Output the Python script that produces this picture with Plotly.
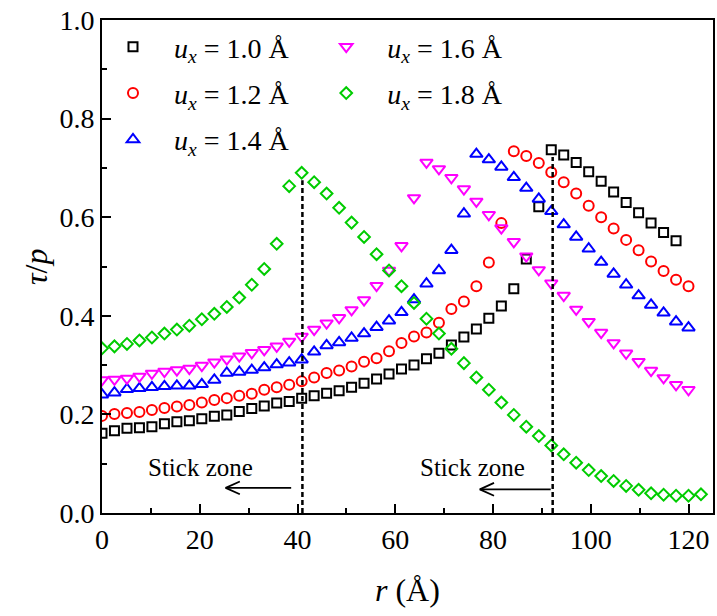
import plotly.graph_objects as go

# shared radial grid (Å)
r_grid = [0.00, 2.55, 5.11, 7.66, 10.21, 12.77, 15.32, 17.87, 20.42, 22.98,
          25.53, 28.08, 30.64, 33.19, 35.74, 38.30, 40.85, 43.40, 45.95, 48.51,
          51.06, 53.61, 56.17, 58.72, 61.27, 63.83, 66.38, 68.93, 71.48, 74.04,
          76.59, 79.14, 81.70, 84.25, 86.80, 89.36, 91.91, 94.46, 97.01, 99.57,
          102.12, 104.67, 107.23, 109.78, 112.33, 114.89, 117.44, 119.99, 122.54]

ux_10 = [0.162, 0.167, 0.172, 0.173, 0.175, 0.181, 0.185, 0.187, 0.191, 0.196,
         0.199, 0.206, 0.212, 0.217, 0.223, 0.226, 0.233, 0.238, 0.243, 0.248,
         0.255, 0.263, 0.272, 0.282, 0.292, 0.300, 0.313, 0.324, 0.341, 0.357,
         0.373, 0.395, 0.420, 0.455, 0.515, 0.621, 0.737, 0.726, 0.711, 0.692,
         0.673, 0.651, 0.630, 0.609, 0.588, 0.569, 0.552]
ux_12 = [0.197, 0.201, 0.203, 0.205, 0.209, 0.213, 0.216, 0.219, 0.224, 0.229,
         0.233, 0.238, 0.242, 0.250, 0.255, 0.260, 0.267, 0.275, 0.284, 0.289,
         0.297, 0.307, 0.314, 0.328, 0.345, 0.358, 0.366, 0.386, 0.414, 0.429,
         0.460, 0.508, 0.588, 0.734, 0.724, 0.710, 0.691, 0.671, 0.648, 0.623,
         0.600, 0.577, 0.554, 0.533, 0.510, 0.491, 0.473, 0.460]
ux_14 = [0.240, 0.244, 0.251, 0.253, 0.255, 0.257, 0.258, 0.258, 0.261, 0.270,
         0.284, 0.286, 0.290, 0.295, 0.301, 0.305, 0.311, 0.327, 0.340, 0.346,
         0.355, 0.364, 0.377, 0.390, 0.407, 0.433, 0.465, 0.492, 0.533, 0.607,
         0.728, 0.717, 0.702, 0.681, 0.659, 0.637, 0.612, 0.585, 0.560, 0.536,
         0.509, 0.485, 0.463, 0.441, 0.422, 0.406, 0.388, 0.376]
ux_16 = [0.270, 0.271, 0.273, 0.277, 0.283, 0.287, 0.290, 0.293, 0.299, 0.306,
         0.312, 0.318, 0.325, 0.331, 0.338, 0.348, 0.358, 0.372, 0.385, 0.396,
         0.412, 0.432, 0.461, 0.492, 0.542, 0.639, 0.711, 0.698, 0.680, 0.657,
         0.632, 0.605, 0.578, 0.550, 0.521, 0.493, 0.466, 0.441, 0.413, 0.388,
         0.366, 0.345, 0.324, 0.307, 0.289, 0.274, 0.260, 0.250]
ux_18 = [0.334, 0.338, 0.343, 0.350, 0.356, 0.364, 0.372, 0.380, 0.393, 0.404,
         0.418, 0.437, 0.463, 0.495, 0.546, 0.663, 0.690, 0.671, 0.648, 0.619,
         0.589, 0.560, 0.525, 0.492, 0.460, 0.426, 0.394, 0.364, 0.333, 0.304,
         0.275, 0.250, 0.224, 0.199, 0.175, 0.156, 0.137, 0.119, 0.102, 0.087,
         0.075, 0.065, 0.055, 0.047, 0.040, 0.037, 0.035, 0.035, 0.038]

series_labels = ["1.0", "1.2", "1.4", "1.6", "1.8"]
series_values = [ux_10, ux_12, ux_14, ux_16, ux_18]
series_colors = ["#000000", "#FF0000", "#0000FF", "#FF00FF", "#00CC00"]
series_symbols = ["square-open", "circle-open", "triangle-up-open",
                  "triangle-down-open", "diamond-open"]
series_sizes = [9, 10, 11, 11, 9]
series_legend = ["legend", "legend", "legend", "legend2", "legend2"]

# stick-zone boundaries (dashed) and arrows
boundary_r = [41.0, 92.2]
boundary_top = [0.675, 0.722]
arrow_tail_r = [38.7, 91.8]
arrow_head_r = [25.3, 77.3]
arrow_y = [0.051, 0.048]
label_r = [20.2, 75.8]
label_y = [0.092, 0.092]
label_text = ["Stick zone", "Stick zone"]

FONT = "Liberation Serif"
NB = "\u00a0"

fig = go.Figure()

for lab, vals, col, sym, sz, lg in zip(series_labels, series_values, series_colors,
                                         series_symbols, series_sizes, series_legend):
    fig.add_trace(go.Scatter(
        x=r_grid[:len(vals)], y=vals, mode="markers",
        name=NB * 3 + "<i>u</i><sub><i>x</i></sub>" + NB + "= " + lab + " Å",
        legendgroup=lab, legend=lg,
        marker=dict(symbol=sym, size=sz, color=col, line=dict(width=2, color=col)),
    ))

for br, bt in zip(boundary_r, boundary_top):
    fig.add_trace(go.Scatter(x=[br, br], y=[0, bt], mode="lines", showlegend=False,
                             line=dict(color="black", width=2.5, dash="5px,3px")))

head_dx = 2.9
head_dy = 0.013
for tr, hr, ay in zip(arrow_tail_r, arrow_head_r, arrow_y):
    fig.add_trace(go.Scatter(
        x=[tr, hr, None, hr + head_dx, hr, hr + head_dx],
        y=[ay, ay, None, ay + head_dy, ay, ay - head_dy],
        mode="lines", showlegend=False, line=dict(color="black", width=1.8)))

for lr, ly, lt in zip(label_r, label_y, label_text):
    fig.add_annotation(x=lr, y=ly, xref="x", yref="y", text=lt, showarrow=False,
                       xanchor="center", yanchor="middle",
                       font=dict(family=FONT, size=25, color="black"))

fig.add_annotation(x=0.5, y=-0.156, xref="paper", yref="paper", showarrow=False,
                   xanchor="center", yanchor="middle",
                   text="<i>r</i> (Å)", font=dict(family=FONT, size=32, color="black"))
fig.add_annotation(x=-0.109, y=0.5, xref="paper", yref="paper", showarrow=False,
                   xanchor="center", yanchor="middle",
                   textangle=-90, text="<i>τ</i>/<i>p</i>",
                   font=dict(family=FONT, size=32, color="black"))

axis_common = dict(showline=True, linecolor="black", linewidth=2, mirror=True,
                   ticks="inside", ticklen=9, tickwidth=2, tickcolor="black",
                   showgrid=False, zeroline=False,
                   tickfont=dict(family=FONT, size=28, color="black"))

fig.update_xaxes(range=[0, 125], tickvals=[0, 20, 40, 60, 80, 100, 120],
                 minor=dict(ticks="inside", ticklen=5, tickwidth=2, tickcolor="black",
                            dtick=10, tick0=0, showgrid=False),
                 **axis_common)
fig.update_yaxes(range=[0, 1.0], tickvals=[0, 0.2, 0.4, 0.6, 0.8, 1.0], tickformat=".1f",
                 minor=dict(ticks="inside", ticklen=5, tickwidth=2, tickcolor="black",
                            dtick=0.1, tick0=0, showgrid=False),
                 **axis_common)

legend_common = dict(font=dict(family=FONT, size=28, color="black"),
                     bgcolor="rgba(0,0,0,0)", borderwidth=0, tracegroupgap=7,
                     xanchor="left", yanchor="top", itemsizing="trace")
fig.update_layout(
    width=717, height=616,
    margin=dict(l=102, r=2, t=20, b=103),
    paper_bgcolor="white", plot_bgcolor="white",
    legend=dict(x=0.018, y=0.996, **legend_common),
    legend2=dict(x=0.367, y=0.996, **legend_common),
)

fig.write_html("out.html")
